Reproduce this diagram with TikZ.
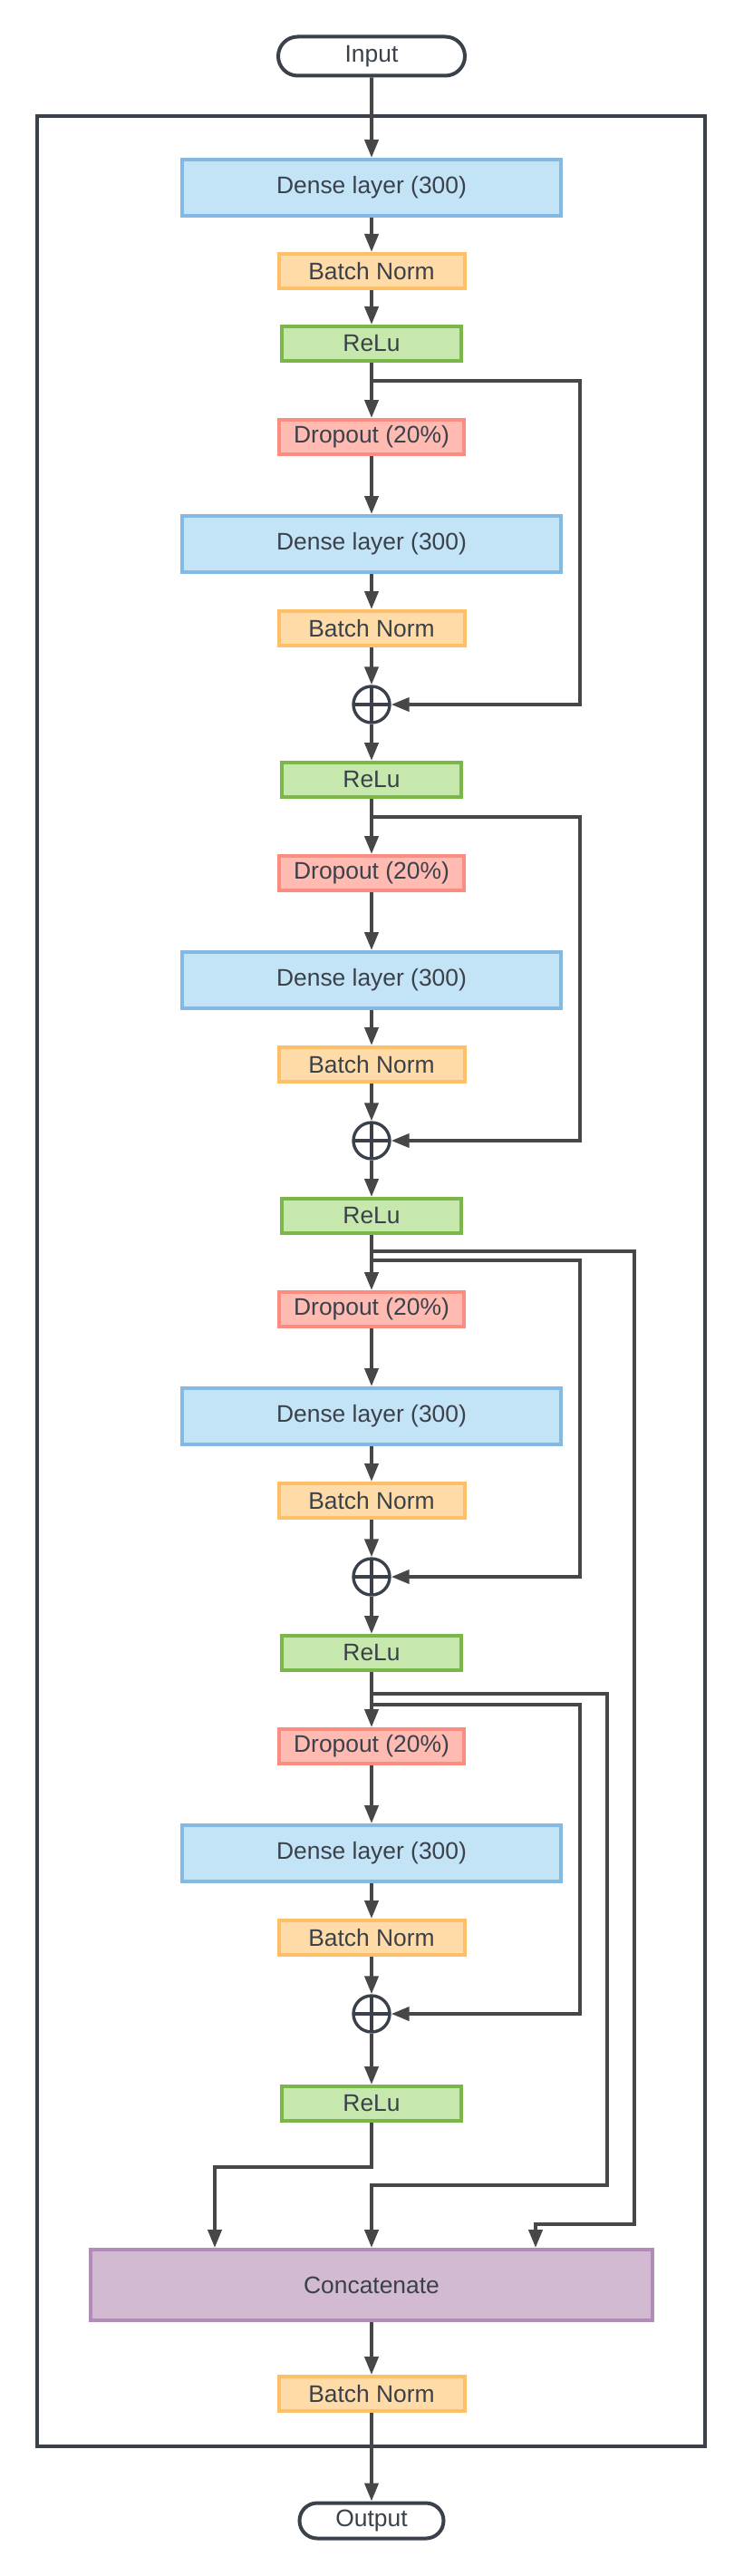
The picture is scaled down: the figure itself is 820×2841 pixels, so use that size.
\documentclass[tikz,border=0pt]{standalone}
\usepackage{fontspec}
\setmainfont{Liberation Sans}
\usepackage{tikz}
\definecolor{densefill}{HTML}{C3E4F7}
\definecolor{denseline}{HTML}{84B9E3}
\definecolor{bnfill}{HTML}{FFDBA8}
\definecolor{bnline}{HTML}{FDBF68}
\definecolor{relufill}{HTML}{C7E8AC}
\definecolor{reluline}{HTML}{7AB648}
\definecolor{dropfill}{HTML}{FFBAB2}
\definecolor{dropline}{HTML}{FA8C80}
\definecolor{catfill}{HTML}{D2BBD2}
\definecolor{catline}{HTML}{B08CB6}
\definecolor{arrowgray}{HTML}{474747}
\definecolor{framegray}{HTML}{3A414A}
\usetikzlibrary{shapes.misc, arrows.meta, positioning}

\tikzset{
    layer/.style={draw, line width=2pt, inner sep=0pt, text=framegray,
          font=\fontsize{13.2}{15}\selectfont, minimum height=19pt},
    dense/.style={layer, draw=denseline, fill=densefill, minimum width=209pt, minimum height=31pt},
    bnorm/.style={layer, draw=bnline, fill=bnfill, minimum width=102.5pt},
    relu/.style={layer, draw=reluline, fill=relufill, minimum width=99pt},
    dropout/.style={layer, draw=dropline, fill=dropfill, minimum width=102pt},
    concat/.style={layer, draw=catline, fill=catfill, minimum width=310pt, minimum height=39pt},
    terminal/.style={layer, rounded rectangle, draw=framegray, fill=white, minimum width=103pt, minimum height=21.5pt},
    addnode/.style={circle, draw=framegray, line width=1.7pt, fill=white, minimum size=20pt, inner sep=0pt,
          path picture={\draw[framegray, line width=1.7pt]
              (path picture bounding box.north) -- (path picture bounding box.south)
              (path picture bounding box.west) -- (path picture bounding box.east);}},
    flow/.style={draw=arrowgray, line width=2pt, -{Triangle[length=10pt, width=7.5pt]}},
    wire/.style={draw=arrowgray, line width=2pt}
}

\begin{document}
\begin{tikzpicture}[x=0.5pt, y=-0.5pt]
    \useasboundingbox (0,0) rectangle (820,2841);
    % frame round the network
    \draw[framegray, line width=2pt] (41,128) rectangle (778,2698);

    \node[terminal] (input) at (410,62) {Input};
    \node[dense] (dense) at (410,207) {Dense layer (300)};
    \node[bnorm] (bnorm) at (410,299) {Batch Norm};
    \foreach \k/\y in {0/379, 1/860, 2/1341, 3/1823, 4/2320}
        \node[relu] (relu\k) at (410,\y) {ReLu};

    % residual blocks
    \foreach \k/\y/\t in {0/358/420, 1/839/901, 2/1320/1390, 3/1802/1880}{
        \pgfmathtruncatemacro\n{\k+1}
        \node[dropout] (drop\k) at (410,\y+124) {Dropout (20\%)};
        \node[dense] (dense\k) at (410,\y+242) {Dense layer (300)};
        \node[bnorm] (bn\k) at (410,\y+335) {Batch Norm};
        \node[addnode] (add\k) at (410,\y+419) {};
        \coordinate (tap\k) at (410,\t);
        \coordinate (turn\k) at (640,\t);
        \draw[flow] (relu\k) -- (drop\k);
        \draw[flow] (drop\k) -- (dense\k);
        \draw[flow] (dense\k) -- (bn\k);
        \draw[flow] (bn\k) -- (add\k);
        \draw[flow] (add\k) -- (relu\n);
        \draw[flow] (tap\k) -- (turn\k) |- (add\k);
    }

    \node[concat] (cat) at (410,2520) {Concatenate};
    \node[bnorm] (bnout) at (410,2640) {Batch Norm};
    \node[terminal, minimum width=79.5pt, minimum height=19.5pt] (output) at (410,2780) {Output};

    \draw[flow] (input) -- (dense);
    \draw[flow] (dense) -- (bnorm);
    \draw[flow] (bnorm) -- (relu0);

    % skip paths into the concatenation
    \coordinate (far) at (410,1380);
    \coordinate (mid) at (410,1868);
    \coordinate (hopA) at (237,2390);
    \coordinate (hopB) at (410,2410);
    \coordinate (hopC) at (591,2453);
    \draw[flow] (relu4) |- (hopA) -- (hopA |- cat.north);
    \draw[flow] (mid) -- (670,1868) |- (hopB) -- (hopB |- cat.north);
    \draw[flow] (far) -- (700,1380) |- (hopC) -- (hopC |- cat.north);

    \draw[flow] (cat) -- (bnout);
    \draw[flow] (bnout) -- (output);
\end{tikzpicture}
\end{document}
